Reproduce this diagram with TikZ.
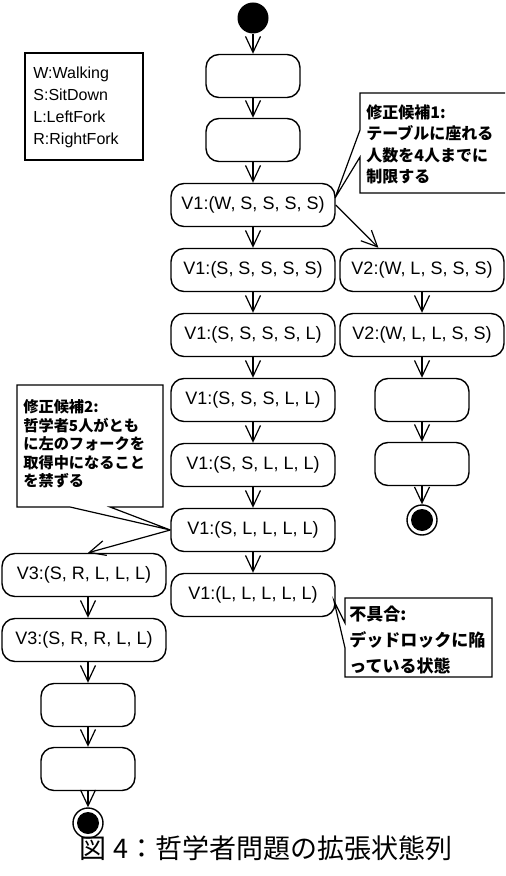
\documentclass[tikz,border=0pt]{standalone}
\usepackage{fontspec}
\setmainfont{Liberation Sans}
\newfontfamily\jpfont{Noto Sans CJK JP}
\usetikzlibrary{arrows.meta}

\tikzset{
  state/.style={draw, rounded corners=6.5pt, line width=0.7pt, minimum height=21.5pt,
    inner sep=0pt, font=\fontsize{9}{11}\selectfont},
  vstate/.style={state, minimum width=82pt},
  blank/.style={state, minimum width=47pt},
  startdot/.style={circle, fill, minimum size=15.5pt, inner sep=0pt},
  enddot/.style={circle, draw, line width=0.7pt, minimum size=15pt, inner sep=0pt,
    path picture={\fill (path picture bounding box.center) circle (5.5pt);}},
  flow/.style={-{Straight Barb[length=8pt,width=7.5pt]}, line width=0.6pt},
  note/.style={line width=0.6pt},
  notetext/.style={anchor=north west, inner sep=0pt, align=left},
}

\begin{document}
\begin{tikzpicture}[x=0.5pt,y=-0.5pt]
    \clip (0,0) rectangle (505,876);

    % legend
    \draw[note] (25,53) rectangle (143,160);
    \node[notetext, font=\fontsize{8}{11}\selectfont] (legend) at (33,67)
      {W:Walking\\S:SitDown\\L:LeftFork\\R:RightFork};

    % main column
    \node[startdot] (start) at (253,18) {};
    \node[blank] (b1) at (253,76) {};
    \node[blank] (b2) at (253,140) {};
    \node[vstate] (v1a) at (253,205) {V1:(W, S, S, S, S)};
    \node[vstate] (v1b) at (253,270) {V1:(S, S, S, S, S)};
    \node[vstate] (v1c) at (253,335) {V1:(S, S, S, S, L)};
    \node[vstate] (v1d) at (253,400) {V1:(S, S, S, L, L)};
    \node[vstate] (v1e) at (253,465) {V1:(S, S, L, L, L)};
    \node[vstate] (v1f) at (253,530) {V1:(S, L, L, L, L)};
    \node[vstate] (v1g) at (253,595) {V1:(L, L, L, L, L)};
    \draw[flow] (start) -- (b1);
    \draw[flow] (b1) -- (b2);
    \draw[flow] (b2) -- (v1a);
    \draw[flow] (v1a) -- (v1b);
    \draw[flow] (v1b) -- (v1c);
    \draw[flow] (v1c) -- (v1d);
    \draw[flow] (v1d) -- (v1e);
    \draw[flow] (v1e) -- (v1f);
    \draw[flow] (v1f) -- (v1g);

    % right branch (V2)
    \node[vstate] (v2a) at (422,270) {V2:(W, L, S, S, S)};
    \node[vstate] (v2b) at (422,335) {V2:(W, L, L, S, S)};
    \node[blank] (r1) at (422,400) {};
    \node[blank] (r2) at (422,464) {};
    \node[enddot] (rend) at (422,520) {};
    \draw[flow] (v1a.east) -- (v2a.153);
    \draw[flow] (v2a) -- (v2b);
    \draw[flow] (v2b) -- (r1);
    \draw[flow] (r1) -- (r2);
    \draw[flow] (r2) -- (rend);

    % left branch (V3)
    \node[vstate] (v3a) at (84,575) {V3:(S, R, L, L, L)};
    \node[vstate] (v3b) at (84,640) {V3:(S, R, R, L, L)};
    \node[blank] (l1) at (88,705) {};
    \node[blank] (l2) at (88,769) {};
    \node[enddot] (lend) at (88,823) {};
    \draw[flow] (v1f.west) -- (v3a.north -| l1);
    \draw[flow] (v3a.south -| l1) -- (v3b.north -| l1);
    \draw[flow] (v3b.south -| l1) -- (l1);
    \draw[flow] (l1) -- (l2);
    \draw[flow] (l2) -- (lend);

    % note 1
    \coordinate (t1) at (335,198);
    \draw[note] (360,130) -- (360,93) -- (520,93) -- (520,193) -- (360,193)
      -- (360,157) -- (t1) -- cycle;
    \node[notetext, font=\jpfont\bfseries\fontsize{8}{10.8}\selectfont] (n1) at (366,104)
      {修正候補1:\\テーブルに座れる\\人数を4人までに\\制限する};

    % note 2
    \draw[note] (70,507) -- (17,507) -- (17,385) -- (163,385) -- (163,507)
      -- (110,507) -- (v1f.west) -- cycle;
    \node[notetext, font=\jpfont\bfseries\fontsize{7.6}{9.3}\selectfont] (n2) at (23,399)
      {修正候補2:\\哲学者5人がとも\\に左のフォークを\\取得中になること\\を禁ずる};

    % note 3
    \coordinate (t3) at (334,601);
    \draw[note] (345,623) -- (345,598) -- (492,598) -- (492,677) -- (345,677)
      -- (345,648) -- (t3) -- cycle;
    \node[notetext, font=\jpfont\bfseries\fontsize{8.5}{13}\selectfont] (n3) at (349,606)
      {不具合:\\デッドロックに陥\\っている状態};

    % caption
    \node[font=\jpfont\fontsize{13.5}{16}\selectfont] (caption) at (266,848)
      {図 4：哲学者問題の拡張状態列};
\end{tikzpicture}
\end{document}
